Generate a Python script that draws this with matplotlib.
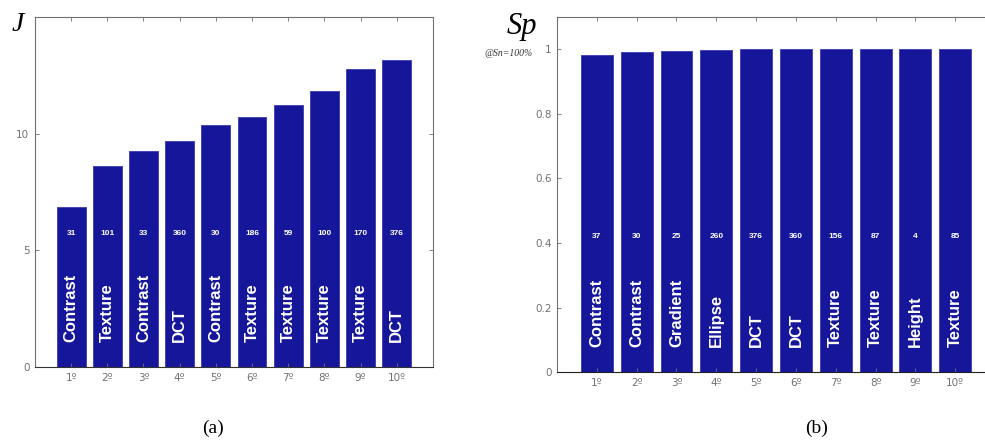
import numpy as np
import matplotlib.pyplot as plt

# data
ranks = np.arange(1, 11)
rank_labels = ['%dº' % r for r in ranks]

j_values = [6.84, 8.63, 9.27, 9.70, 10.38, 10.73, 11.24, 11.84, 12.78, 13.16]
j_counts = ['31', '101', '33', '360', '30', '186', '59', '100', '170', '376']
j_features = ['Contrast', 'Texture', 'Contrast', 'DCT', 'Contrast',
              'Texture', 'Texture', 'Texture', 'Texture', 'DCT']

sp_values = [0.984, 0.993, 0.995, 0.998, 1.0, 1.0, 1.0, 1.0, 1.0, 1.0]
sp_counts = ['37', '30', '25', '260', '376', '360', '156', '87', '4', '85']
sp_features = ['Contrast', 'Contrast', 'Gradient', 'Ellipse', 'DCT',
               'DCT', 'Texture', 'Texture', 'Height', 'Texture']

bar_color = '#15169a'
grey = '#707070'

fig = plt.figure(figsize=(9.85, 4.44), dpi=100)
ax1 = fig.add_axes([0.0355, 0.1734, 0.404, 0.788])
ax2 = fig.add_axes([0.5655, 0.162, 0.4447, 0.7995])


def draw_panel(ax, values, counts, features, ylim, yticks, yticklabels):
    ax.bar(ranks, values, width=0.8, color=bar_color, edgecolor='#3a3ab0', linewidth=0.6)
    ax.set_xlim(0, 11)
    ax.set_ylim(*ylim)
    ax.set_xticks(ranks)
    ax.set_xticklabels(rank_labels)
    ax.set_yticks(yticks)
    ax.set_yticklabels(yticklabels)
    ax.tick_params(direction='in', length=3, width=0.6, colors=grey,
                   labelsize=7.5, top=True, right=True, pad=4)
    for s in ax.spines.values():
        s.set_color(grey)
        s.set_linewidth(0.8)
    ax.spines['bottom'].set_color('#333333')
    for x, c, f in zip(ranks, counts, features):
        ax.text(x, 0.383, c, transform=ax.get_xaxis_transform(), ha='center', va='center',
                color='white', fontsize=6, fontweight='bold', family='Liberation Sans')
        ax.text(x, 0.071, f, transform=ax.get_xaxis_transform(), ha='center', va='bottom',
                rotation=90, color='white', fontsize=12, fontweight='bold',
                family='Liberation Sans')


draw_panel(ax1, j_values, j_counts, j_features, (0, 15), [0, 5, 10], ['0', '5', '10'])
draw_panel(ax2, sp_values, sp_counts, sp_features, (0, 1.1),
           [0, 0.2, 0.4, 0.6, 0.8, 1.0], ['0', '0.2', '0.4', '0.6', '0.8', '1'])
ax2.spines['bottom'].set_color('#222222')

fig.text(0.018, 0.945, 'J', fontsize=20, style='italic', family='Liberation Serif',
         ha='center', va='center')
fig.text(0.530, 0.94, 'Sp', fontsize=22, style='italic', family='Liberation Serif',
         ha='center', va='center')
fig.text(0.541, 0.88, '@Sn=100%', fontsize=7, style='italic', family='Liberation Serif',
         ha='right', va='center', color='#333333')

fig.text(0.216, 0.036, '(a)', fontsize=14, family='Liberation Serif', ha='center', va='center')
fig.text(0.829, 0.036, '(b)', fontsize=14, family='Liberation Serif', ha='center', va='center')

fig.savefig('out.png', dpi=100)
